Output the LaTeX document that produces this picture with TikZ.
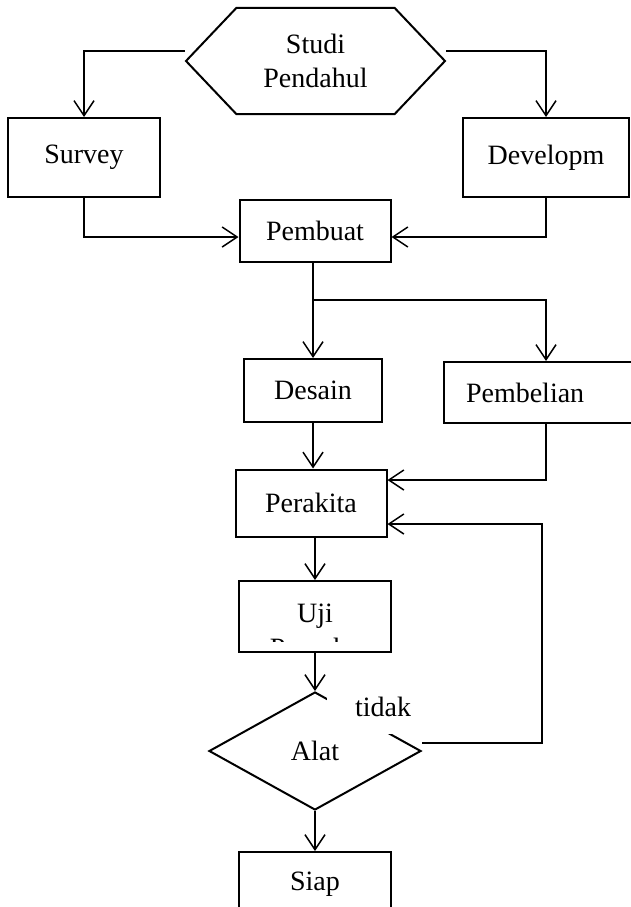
\documentclass[tikz,border=0pt]{standalone}
\usepackage{fontspec}
\setmainfont{Liberation Serif}
\usetikzlibrary{shapes.geometric, shapes.symbols, arrows.meta}

\begin{document}
\begin{tikzpicture}[
  x=1pt, y=-1pt,
  lbl/.style={font=\fontsize{28}{34}\selectfont},
  box/.style={lbl, draw, line width=2pt, minimum width=152pt, minimum height=64pt, inner sep=0pt},
  link/.style={line width=1.5pt},
  arr/.style={link, -{Straight Barb[length=15pt, width=20pt]}},
]
  \useasboundingbox (0,0) rectangle (631,907);
  \clip (0,0) rectangle (631,907);

  \node[box, signal, signal to=west and east, signal pointer angle=93, minimum width=259pt, minimum height=106pt, align=center] (studi) at (315.5,61) {Studi\\Pendahul};
  \node[box, minimum height=79pt] (survey) at (84,157.5) {Survey};
  \node[box, minimum width=166pt, minimum height=79pt] (develop) at (546,157.5) {Developm};
  \node[box, minimum width=151pt, minimum height=62pt] (pembuat) at (315,231) {Pembuat};
  \node[box, minimum width=138pt, minimum height=63pt] (desain) at (313,390.5) {Desain};
  \node[box, anchor=west, minimum height=61pt, text width=160pt, inner xsep=22pt, align=left] (pembelian) at (443,392.5) {Pembelian};
  \node[box, minimum width=151pt, minimum height=67pt] (perakita) at (311,503) {Perakita};
  \node[box, minimum height=71pt] (uji) at (315,616.5) {Uji};
  \node[lbl, draw, diamond, line width=2pt, minimum width=212pt, minimum height=118pt, inner sep=0pt] (alat) at (315,751) {Alat};
  \node[box] (siap) at (315,884) {Siap};

  % second line of the test box, cut off at the bottom
  \begin{scope}
    \clip (uji.north west) rectangle ([yshift=12pt]uji.south east);
    \node[lbl, anchor=base, inner sep=0pt] (ujicut) at ([yshift=-35pt]uji.base) {Percoba};
  \end{scope}

  \draw[arr] ([yshift=10pt]studi.west) -| (survey.north);
  \draw[arr] ([yshift=10pt]studi.east) -| (develop.north);
  \draw[arr] (survey.south) |- ([yshift=-6pt]pembuat.west);
  \draw[arr] (develop.south) |- ([yshift=-6pt]pembuat.east);
  \draw[arr] (desain.north |- pembuat.south) -- (desain.north);
  \path (desain.north |- pembuat.south) ++(0,37) coordinate (split);
  \draw[arr] (split) -| (pembelian.north);
  \draw[arr] (desain.south) -- (desain.south |- perakita.north);
  \draw[arr] (pembelian.south) |- ([yshift=23pt]perakita.east);
  \draw[arr] (uji.north |- perakita.south) -- (uji.north);
  \draw[arr] (uji.south) -- (alat.north);
  \draw[arr] (alat.south) -- (siap.north);
  \draw[arr] ([yshift=8pt]alat.east) -- ++(120,0) |- ([yshift=-21pt]perakita.east);

  \node[lbl, fill=white, minimum width=112pt, minimum height=54pt, inner sep=0pt] (tidak) at (383,707) {tidak};
\end{tikzpicture}
\end{document}
